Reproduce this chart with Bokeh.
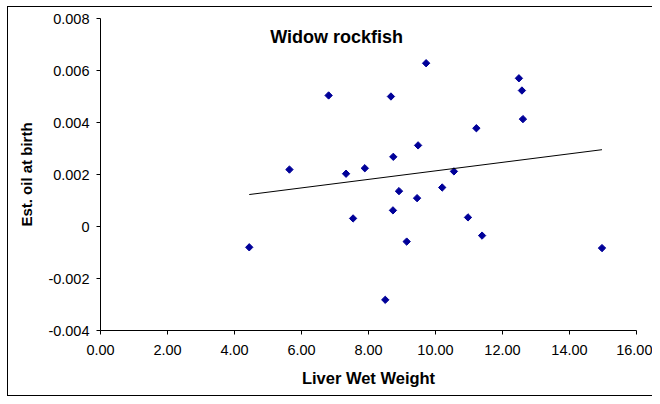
import numpy as np
from bokeh.plotting import figure
from bokeh.models import Label, NumeralTickFormatter, FixedTicker
from bokeh.embed import file_html
from bokeh.resources import INLINE

# Data
liver_wet_weight = [4.44, 5.64, 6.81, 7.33, 7.54, 7.89, 8.67, 8.74, 8.73, 8.50, 8.91, 9.14,
                    9.48, 9.45, 9.72, 10.20, 10.55, 10.97, 11.22, 11.39, 12.49, 12.58, 12.61, 14.97]
est_oil_at_birth = [-0.00080, 0.00219, 0.00504, 0.00203, 0.00031, 0.00224, 0.00500, 0.00268,
                    0.00062, -0.00282, 0.00136, -0.00058, 0.00312, 0.00109, 0.00628, 0.00150,
                    0.00212, 0.00035, 0.00378, -0.00035, 0.00570, 0.00523, 0.00413, -0.00083]
x_ticks = [0, 2, 4, 6, 8, 10, 12, 14, 16]
y_ticks = [-0.004, -0.002, 0, 0.002, 0.004, 0.006, 0.008]
y_tick_labels = ["-0.004", "-0.002", "0", "0.002", "0.004", "0.006", "0.008"]
title_text = "Widow rockfish"
x_label = "Liver Wet Weight"
y_label = "Est. oil at birth"

FONT = "Liberation Sans"

p = figure(width=652, height=396, output_backend="svg", toolbar_location=None,
           x_range=(0, 16), y_range=(-0.004, 0.008),
           min_border_left=100, min_border_right=16, min_border_top=18, min_border_bottom=66)
p.outline_line_color = None
p.xgrid.visible = False
p.ygrid.visible = False
# Transparent canvas so the outer chart-area border (drawn by CSS) shows through
p.background_fill_color = None
p.border_fill_color = None
p.styles = {
    "background": ("linear-gradient(#000, #000) 7px 6px / 1px 100% no-repeat, "
                   "linear-gradient(#000, #000) 7px 6px / 100% 1px no-repeat, "
                   "linear-gradient(#000, #000) 7px 100% / 100% 1px no-repeat, #fff"),
}

# Axes
p.xaxis.ticker = FixedTicker(ticks=x_ticks)
p.xaxis.formatter = NumeralTickFormatter(format="0.00")
p.yaxis.ticker = FixedTicker(ticks=y_ticks)
p.yaxis.major_label_overrides = {t: l for t, l in zip(y_ticks, y_tick_labels)}
for ax in (p.xaxis, p.yaxis):
    ax.axis_line_color = "black"
    ax.axis_line_width = 1
    ax.major_tick_line_color = "black"
    ax.major_tick_in = 0
    ax.major_tick_out = 4
    ax.minor_tick_line_color = None
    ax.major_label_text_font = FONT
    ax.major_label_text_font_size = "14.5px"
    ax.major_label_text_color = "black"
    ax.axis_label_text_font = FONT
    ax.axis_label_text_font_style = "bold"
    ax.axis_label_text_color = "black"
p.xaxis.axis_label = x_label
p.yaxis.axis_label = y_label
p.xaxis.axis_label_text_font_size = "16.5px"
p.yaxis.axis_label_text_font_size = "15px"
p.xaxis.major_label_standoff = 10
p.yaxis.major_label_standoff = 7
p.xaxis.axis_label_standoff = 11
p.yaxis.axis_label_standoff = 10

# Points (Excel-style diamonds)
p.scatter(liver_wet_weight, est_oil_at_birth, marker="square", angle=np.pi / 4, size=5.2,
          fill_color="#000099", line_color="#000099", line_width=1)

# Linear trend line
xs = np.array(liver_wet_weight)
ys = np.array(est_oil_at_birth)
slope, intercept = np.polyfit(xs, ys, 1)
x_end = np.array([xs.min(), xs.max()])
p.line(x_end, slope * x_end + intercept, line_color="black", line_width=1)

# Title inside the chart area
p.add_layout(Label(x=7.05, y=0.00729, text=title_text, text_font=FONT,
                   text_font_size="18px", text_font_style="bold", text_color="black",
                   text_align="center", text_baseline="alphabetic"))

open("out.html", "w").write(file_html(p, INLINE))
